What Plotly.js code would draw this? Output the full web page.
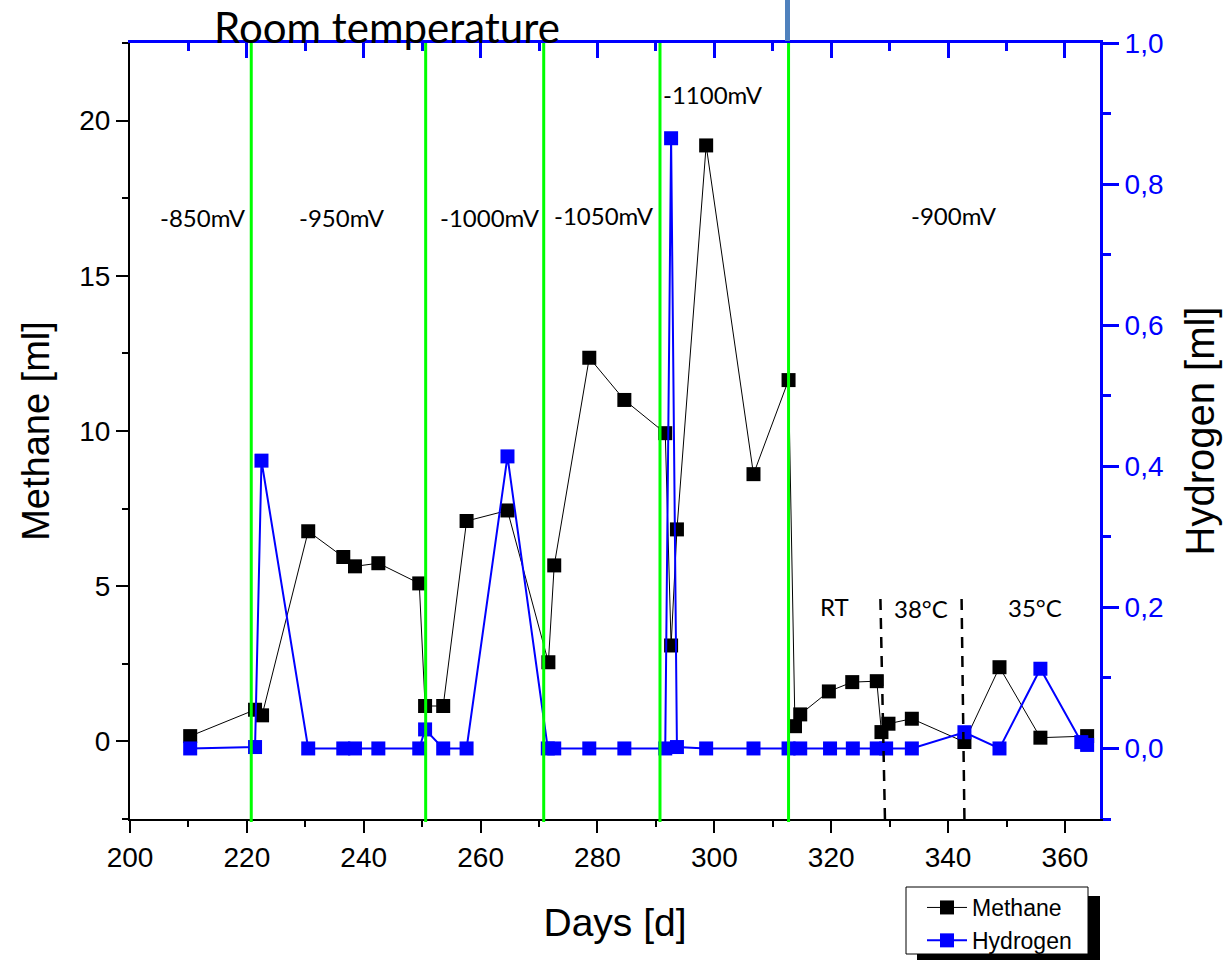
<!DOCTYPE html>
<html>
<head>
<meta charset="utf-8">
<script src="https://cdn.plot.ly/plotly-3.0.1.min.js"></script>
<style>html,body{margin:0;padding:0;background:#fff;}#chart{width:1225px;height:963px;}</style>
</head>
<body>
<div id="chart"></div>
<script>
// ---- data ----
const methaneDays = [210.3, 221.4, 222.6, 230.5, 236.5, 238.5, 242.5, 249.5, 250.5, 253.6, 257.6, 264.6, 271.6, 272.6, 278.6, 284.6, 291.6, 292.6, 293.6, 298.6, 306.7, 312.7, 313.8, 314.7, 319.6, 323.6, 327.8, 328.6, 329.8, 333.8, 342.8, 348.8, 355.8, 363.8];
const methaneMl = [0.17, 1.02, 0.84, 6.77, 5.94, 5.64, 5.74, 5.09, 1.14, 1.14, 7.10, 7.44, 2.55, 5.67, 12.36, 11.00, 9.93, 3.09, 6.83, 19.2, 8.61, 11.64, 0.49, 0.87, 1.61, 1.91, 1.94, 0.30, 0.57, 0.73, -0.02, 2.39, 0.12, 0.17];
const hydrogenDays = [210.3, 221.4, 222.5, 230.5, 236.5, 238.5, 242.5, 249.5, 250.5, 253.6, 257.6, 264.6, 271.5, 272.6, 278.6, 284.6, 291.6, 292.6, 293.6, 298.6, 306.7, 312.7, 314.7, 319.8, 323.7, 327.8, 329.4, 333.8, 342.8, 348.8, 355.8, 362.8, 363.8];
const hydrogenMl = [0.0, 0.002, 0.408, 0, 0, 0, 0, 0, 0.027, 0, 0, 0.414, 0, 0, 0, 0, 0, 0.865, 0.002, 0, 0, 0, 0, 0, 0, 0, 0, 0, 0.023, 0, 0.113, 0.009, 0.005];

const potentialSwitchDays = [220.75, 250.6, 270.8, 290.7, 312.7];
const temperatureSwitchDays = [[329.2, 328.4], [342.8, 342.3]];

const xTickVals = [200, 220, 240, 260, 280, 300, 320, 340, 360];
const potentialLabels = ['-850mV', '-950mV', '-1000mV', '-1050mV', '-1100mV', '-900mV'];
const temperatureLabels = ['RT', '38°C', '35°C'];

// ---- layout helpers (pixel -> paper) ----
const L = 130, R = 1100, T = 43, B = 819;
const px = x => (x - L) / (R - L);
const py = y => (B - y) / (B - T);

const AX = 'Liberation Sans, Arial, sans-serif';
const CAL = 'Lato, Open Sans, sans-serif';

const traces = [
  {
    x: methaneDays, y: methaneMl, name: 'Methane', type: 'scatter', mode: 'lines+markers',
    line: {color: '#000000', width: 1},
    marker: {symbol: 'square', size: 14, color: '#000000'},
    xaxis: 'x', yaxis: 'y', hoverinfo: 'x+y'
  },
  {
    x: hydrogenDays, y: hydrogenMl, name: 'Hydrogen', type: 'scatter', mode: 'lines+markers',
    line: {color: '#0000ff', width: 2},
    marker: {symbol: 'square', size: 14, color: '#0000ff'},
    xaxis: 'x', yaxis: 'y2', hoverinfo: 'x+y'
  },
  {
    // empty trace so the top (blue) axis is drawn
    x: [], y: [], type: 'scatter', mode: 'markers', xaxis: 'x2', yaxis: 'y',
    showlegend: false, hoverinfo: 'skip'
  }
];

const shapes = [];
potentialSwitchDays.forEach(d => shapes.push({
  type: 'line', xref: 'x', yref: 'paper', x0: d, x1: d, y0: -0.004, y1: 1,
  line: {color: '#00ff00', width: 3}, layer: 'above'
}));
temperatureSwitchDays.forEach(p => shapes.push({
  type: 'line', xref: 'x', yref: 'paper', x0: p[0], x1: p[1], y0: 0, y1: py(593),
  line: {color: '#000000', width: 2.5, dash: '11px,8px'}, layer: 'above'
}));
// small steel-blue bar at top
shapes.push({type: 'rect', xref: 'paper', yref: 'paper', x0: px(785), x1: px(790), y0: py(41), y1: py(0),
  fillcolor: '#4f81bd', line: {width: 0}, layer: 'above'});
// legend shadow and box
shapes.push({type: 'rect', xref: 'paper', yref: 'paper', x0: px(917), x1: px(1100), y0: py(960), y1: py(896),
  fillcolor: '#000000', line: {width: 0}, layer: 'above'});
shapes.push({type: 'rect', xref: 'paper', yref: 'paper', x0: px(906), x1: px(1088), y0: py(954), y1: py(887),
  fillcolor: '#ffffff', line: {color: '#000000', width: 1}, layer: 'above'});

const annPos = [[202.5, 218], [341.5, 218], [489.5, 218], [604, 215], [713, 95], [953.5, 215]];
const tempPos = [[834, 606], [921, 608], [1035, 607]];
const annotations = [];
potentialLabels.forEach((t, i) => annotations.push({
  text: t, xref: 'paper', yref: 'paper', x: px(annPos[i][0]), y: py(annPos[i][1]),
  xanchor: 'center', yanchor: 'middle', showarrow: false, font: {family: CAL, size: 24, color: '#000'}
}));
temperatureLabels.forEach((t, i) => annotations.push({
  text: t, xref: 'paper', yref: 'paper', x: px(tempPos[i][0]), y: py(tempPos[i][1]),
  xanchor: 'center', yanchor: 'middle', showarrow: false, font: {family: CAL, size: 24, color: '#000'}
}));
annotations.push({
  text: 'Room temperature', xref: 'paper', yref: 'paper', x: px(387), y: py(27),
  xanchor: 'center', yanchor: 'middle', showarrow: false, borderpad: 0,
  font: {family: CAL, size: 42, color: '#000'}
});

const layout = {
  width: 1225, height: 963,
  margin: {l: L, r: 1225 - R, t: T, b: 963 - B, pad: 0, autoexpand: false},
  paper_bgcolor: '#ffffff', plot_bgcolor: '#ffffff',
  separators: ',.',
  showlegend: true,
  legend: {
    x: px(922), y: py(886), xanchor: 'left', yanchor: 'top',
    bgcolor: 'rgba(0,0,0,0)', borderwidth: 0,
    font: {family: AX, size: 23, color: '#000'},
    tracegroupgap: 0, itemwidth: 40
  },
  xaxis: {
    range: [200, 366], tickvals: xTickVals, ticks: 'outside', ticklen: 12, tickwidth: 2, tickcolor: '#000',
    showline: true, linecolor: '#000', linewidth: 2, showgrid: false, zeroline: false,
    minor: {dtick: 10, tick0: 200, ticks: 'outside', ticklen: 6, tickwidth: 2, tickcolor: '#000', showgrid: false},
    tickfont: {family: AX, size: 28, color: '#000'},
    title: {text: 'Days [d]', font: {family: AX, size: 39, color: '#000'}, standoff: 37},
    automargin: false
  },
  xaxis2: {
    range: [200, 366], overlaying: 'x', anchor: 'y', side: 'top', tickvals: xTickVals,
    ticks: 'inside', ticklen: 15, tickwidth: 3, tickcolor: '#0000ff',
    showline: true, linecolor: '#0000ff', linewidth: 3, showgrid: false, zeroline: false, showticklabels: false,
    minor: {dtick: 10, tick0: 200, ticks: 'inside', ticklen: 8, tickwidth: 3, tickcolor: '#0000ff', showgrid: false},
    automargin: false
  },
  yaxis: {
    range: [-2.5, 22.5], tick0: 0, dtick: 5, ticks: 'outside', ticklen: 12, tickwidth: 2, tickcolor: '#000',
    showline: true, linecolor: '#000', linewidth: 2, showgrid: false, zeroline: false,
    minor: {dtick: 2.5, tick0: 0, ticks: 'outside', ticklen: 6, tickwidth: 2, tickcolor: '#000', showgrid: false},
    tickfont: {family: AX, size: 28, color: '#000'},
    title: {text: 'Methane [ml]', font: {family: AX, size: 38, color: '#000'}, standoff: 18},
    automargin: false
  },
  yaxis2: {
    range: [-0.1, 1.0], overlaying: 'y', side: 'right', anchor: 'x', tick0: 0, dtick: 0.2, tickformat: '.1f',
    ticks: 'outside', ticklen: 16, tickwidth: 3, tickcolor: '#0000ff',
    showline: true, linecolor: '#0000ff', linewidth: 3, showgrid: false, zeroline: false,
    minor: {dtick: 0.1, tick0: 0, ticks: 'outside', ticklen: 8, tickwidth: 3, tickcolor: '#0000ff', showgrid: false},
    tickfont: {family: AX, size: 28, color: '#0000ff'},
    title: {text: 'Hydrogen [ml]', font: {family: AX, size: 40, color: '#000'}, standoff: 24},
    automargin: false
  },
  shapes: shapes,
  annotations: annotations
};

Plotly.newPlot('chart', traces, layout, {displayModeBar: false, staticPlot: true});
</script>
</body>
</html>
